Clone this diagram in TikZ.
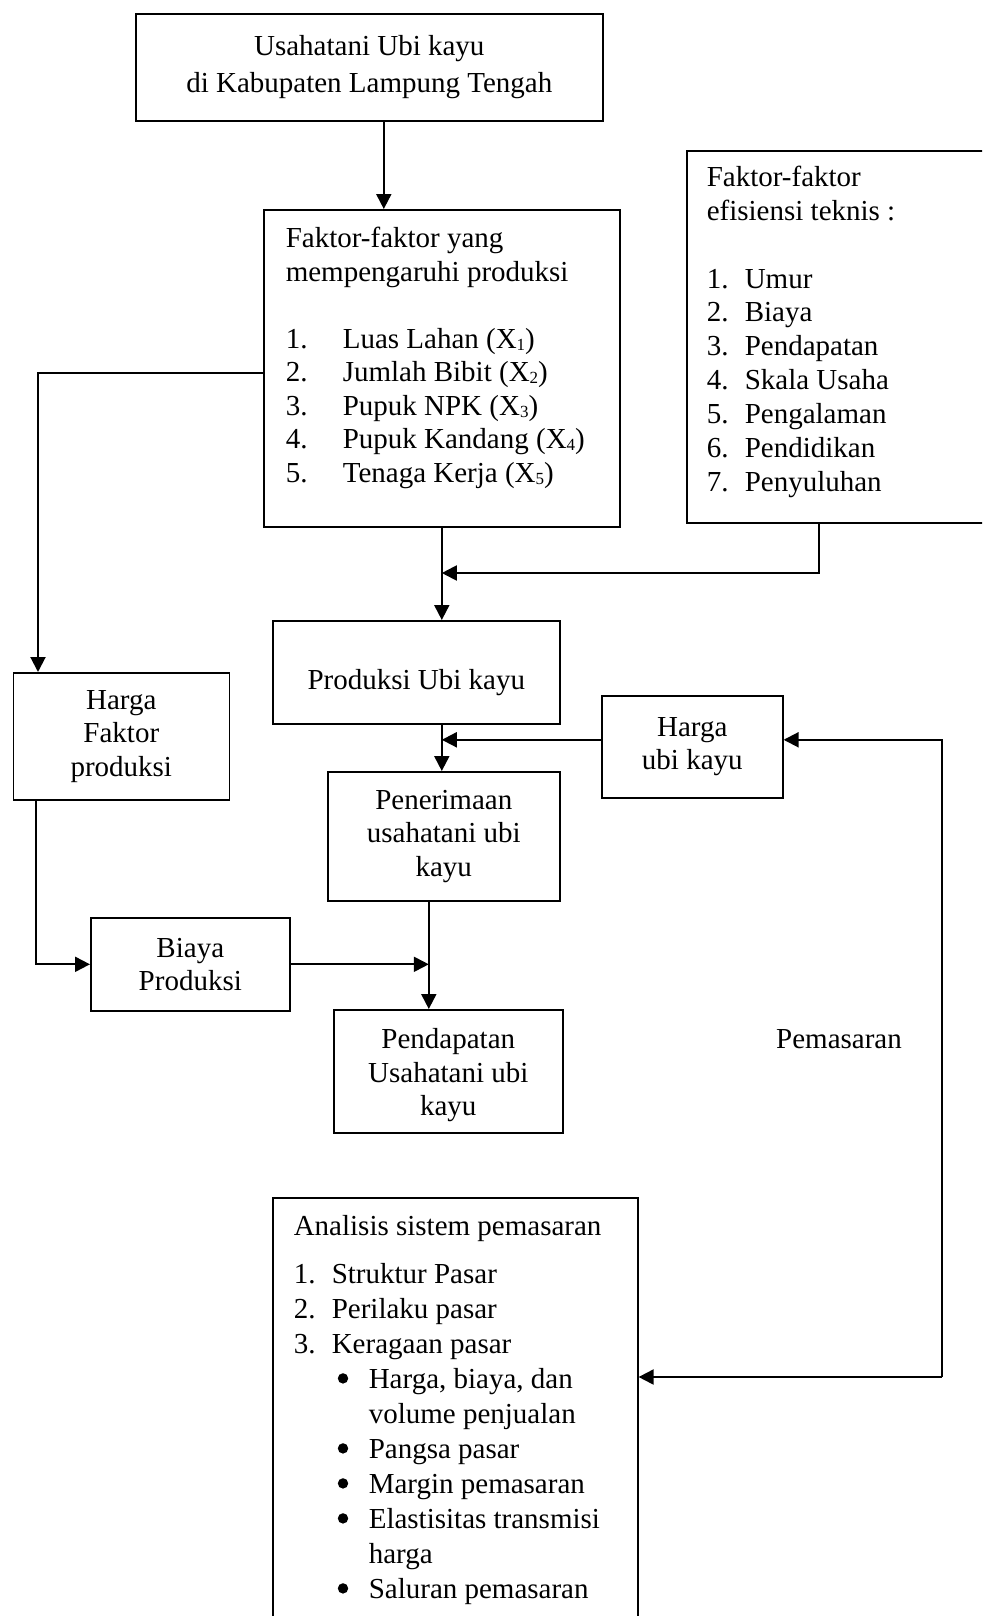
\documentclass[tikz,border=0pt]{standalone}
\usepackage{fontspec}
\setmainfont{Liberation Serif}
\usetikzlibrary{arrows.meta}
\newcommand{\xsub}[1]{\raisebox{-1pt}{\fontsize{8.5pt}{8.5pt}\selectfont #1}}
\newcommand{\listdot}{\tikz[baseline=-5.2pt]\fill (0,0) circle[radius=2.6pt];}

\begin{document}
\begin{tikzpicture}[x=0.5pt,y=-0.5pt,
    every node/.style={font=\fontsize{14.5pt}{16.75pt}\selectfont},
    box/.style={draw,line width=0.8pt,anchor=north west,inner sep=0pt,align=center},
    listbox/.style={draw,line width=0.8pt,anchor=north west,inner ysep=0pt},
    arr/.style={-{Triangle[length=7.5pt,width=7.5pt]},line width=1pt}]
  \path[use as bounding box,clip] (0,0) rectangle (982,1616);

  \node[box,minimum width=233.5pt,minimum height=53.75pt,
        font=\fontsize{14.5pt}{18.5pt}\selectfont] (usaha) at (135,13)
       {Usahatani Ubi kayu\\di Kabupaten Lampung Tengah};
  \node[listbox,inner xsep=11pt] (faktor) at (263,209)
       {\begin{minipage}[t][158.5pt][t]{156pt}
        \rule{0pt}{19pt}Faktor-faktor yang\\
        mempengaruhi produksi\\[16.75pt]
        \makebox[28.5pt][l]{1.}Luas Lahan (X\xsub{1})\\
        \makebox[28.5pt][l]{2.}Jumlah Bibit (X\xsub{2})\\
        \makebox[28.5pt][l]{3.}Pupuk NPK (X\xsub{3})\\
        \makebox[28.5pt][l]{4.}Pupuk Kandang (X\xsub{4})\\
        \makebox[28.5pt][l]{5.}Tenaga Kerja (X\xsub{5})
        \end{minipage}};
  \node[listbox,inner xsep=10pt,font=\fontsize{14.5pt}{16.9pt}\selectfont] (efisiensi) at (686,150)
       {\begin{minipage}[t][186pt][t]{135pt}
        \rule{0pt}{18pt}Faktor-faktor\\
        efisiensi teknis :\\[16.9pt]
        \makebox[19pt][l]{1.}Umur\\
        \makebox[19pt][l]{2.}Biaya\\
        \makebox[19pt][l]{3.}Pendapatan\\
        \makebox[19pt][l]{4.}Skala Usaha\\
        \makebox[19pt][l]{5.}Pengalaman\\
        \makebox[19pt][l]{6.}Pendidikan\\
        \makebox[19pt][l]{7.}Penyuluhan
        \end{minipage}};
  \node[box,minimum width=143.5pt,minimum height=51.5pt] (produksi) at (272,620)
       {\raisebox{-5pt}[\height][\depth]{Produksi Ubi kayu}};
  \node[box,minimum width=108pt,minimum height=63.5pt] (hargaF) at (12.5,672) {Harga\\Faktor\\produksi};
  \node[box,minimum width=90.5pt,minimum height=51pt] (hargaU) at (601,695) {Harga\\ubi kayu};
  \node[box,minimum width=116pt,minimum height=64.5pt] (penerimaan) at (327,771)
       {Penerimaan\\usahatani ubi\\kayu};
  \node[box,minimum width=99.5pt,minimum height=46.5pt] (biaya) at (90,917) {Biaya\\Produksi};
  \node[box,minimum width=114.5pt,minimum height=61.5pt] (pendapatan) at (333,1009)
       {\raisebox{-2pt}[\height][\depth]{\begin{tabular}{@{}c@{}}Pendapatan\\Usahatani ubi\\kayu\end{tabular}}};
  \node[anchor=base] (pemasaran) at (839,1048) {Pemasaran};
  \node[listbox,inner xsep=10.5pt,font=\fontsize{14.5pt}{17.5pt}\selectfont] (analisis) at (272,1197)
       {\begin{minipage}[t][220pt][t]{161.5pt}
        \rule{0pt}{19pt}Analisis sistem pemasaran\\[6.5pt]
        \makebox[19pt][l]{1.}Struktur Pasar\\
        \makebox[19pt][l]{2.}Perilaku pasar\\
        \makebox[19pt][l]{3.}Keragaan pasar\\
        \hspace*{22pt}\makebox[15.5pt][l]{\listdot}Harga, biaya, dan\\
        \hspace*{37.5pt}volume penjualan\\
        \hspace*{22pt}\makebox[15.5pt][l]{\listdot}Pangsa pasar\\
        \hspace*{22pt}\makebox[15.5pt][l]{\listdot}Margin pemasaran\\
        \hspace*{22pt}\makebox[15.5pt][l]{\listdot}Elastisitas transmisi\\
        \hspace*{37.5pt}harga\\
        \hspace*{22pt}\makebox[15.5pt][l]{\listdot}Saluran pemasaran
        \end{minipage}};

  \coordinate (effdrop) at (819,573);
  \coordinate (join) at ([xshift=-7.5pt]penerimaan.south);
  \coordinate (rail) at (942,1377);

  \draw[arr] ([xshift=7.25pt]usaha.south) -- ([xshift=7.25pt]usaha.south |- faktor.north);
  \draw[arr] (faktor.south) -- (faktor.south |- produksi.north);
  \draw[arr] (efisiensi.south west -| effdrop) -- (effdrop) -- (effdrop -| faktor.south);
  \draw[arr] ([yshift=-2.25pt]faktor.west) -| ([xshift=12.75pt]hargaF.north west);
  \draw[arr] ([xshift=11.75pt]hargaF.south west) |- (biaya.west);
  \draw[arr] (faktor.south |- produksi.south) -- (faktor.south |- penerimaan.north);
  \draw[arr] ([yshift=3.5pt]hargaU.west) -- ([yshift=3.5pt]hargaU.west -| faktor.south);
  \draw[arr] (join) -- (join |- pendapatan.north);
  \draw[arr] (biaya.east) -- (biaya.east -| join);
  \draw[arr] (rail) |- ([yshift=3.5pt]hargaU.east);
  \draw[arr] (rail) -- (rail -| analisis.east);
\end{tikzpicture}
\end{document}
